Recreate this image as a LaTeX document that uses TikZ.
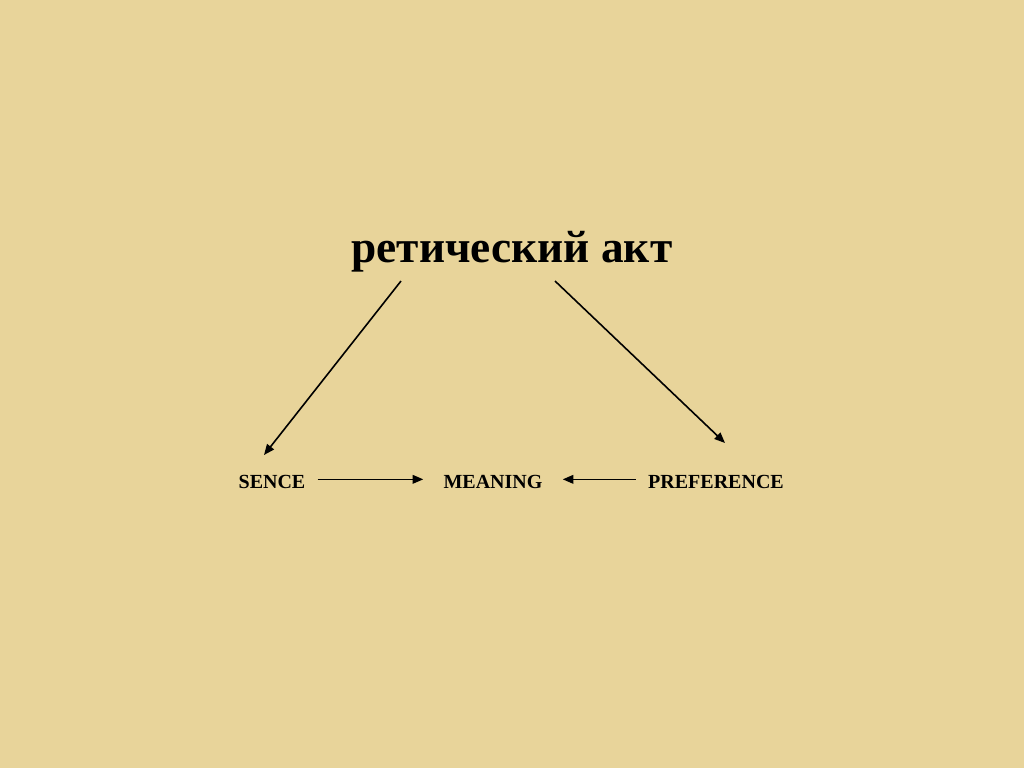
\documentclass[tikz,border=0pt]{standalone}
\usepackage{fontspec}
\setmainfont{Liberation Serif}
\usetikzlibrary{arrows.meta,positioning}
\definecolor{parchment}{RGB}{232,212,154}

\begin{document}
\begin{tikzpicture}[
    x=0.75pt, y=-0.75pt,
    title/.style={font=\fontsize{34}{38}\selectfont\bfseries, inner sep=0pt},
    term/.style={font=\fontsize{15}{17}\selectfont\bfseries, inner sep=0pt},
    arrow/.style={-{Triangle[length=8pt,width=6.5pt]}, line width=1.2pt}
]

% Background
\fill[parchment] (0,0) rectangle (1024,768);
\useasboundingbox (0,0) rectangle (1024,768);

% Title
\node[title] (act) at (512, 252) {ретический акт};

% Terms
\node[term] (sence) at (272, 482) {SENCE};
\node[term] (meaning) at (493, 482) {MEANING};
\node[term] (pref) at (716, 482) {PREFERENCE};

% Arrow ends
\coordinate (actL) at (401, 281);
\coordinate (actR) at (555, 281);
\coordinate (senceT) at (264, 455);
\coordinate (prefT) at (725, 443);

% Arrows
\draw[arrow] (actL) -- (senceT);
\draw[arrow] (actR) -- (prefT);
\draw[arrow, shorten <=9pt, shorten >=15pt] ([yshift=2pt]sence.east) -- ([yshift=2pt]meaning.west);
\draw[arrow, shorten <=9pt, shorten >=15pt] ([yshift=2pt]pref.west) -- ([yshift=2pt]meaning.east);

\end{tikzpicture}
\end{document}
